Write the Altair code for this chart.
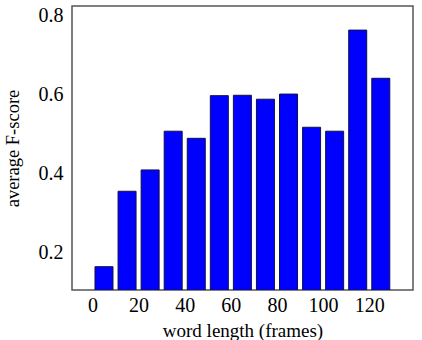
import altair as alt
import pandas as pd

word_length = [5, 15, 25, 35, 45, 55, 65, 75, 85, 95, 105, 115, 125]
f_score = [0.163, 0.354, 0.408, 0.506, 0.488, 0.596, 0.597, 0.587, 0.600, 0.516, 0.506, 0.762, 0.640]
x_ticks = [0, 20, 40, 60, 80, 100, 120]
y_ticks = [0.2, 0.4, 0.6, 0.8]

df = pd.DataFrame({"len": word_length, "f": f_score})

FONT = "Liberation Serif"

chart = alt.Chart(df).mark_bar(
    size=18, color="#0000ff", stroke="#10104a", strokeWidth=1, clip=True
).encode(
    x=alt.X("len:Q", scale=alt.Scale(domain=[-6.7, 136.8], nice=False, zero=False),
            axis=alt.Axis(values=x_ticks, title="word length (frames)", grid=False,
                          domain=False, ticks=False, labelPadding=5, titlePadding=6,
                          labelFontSize=20, titleFontSize=19, labelFont=FONT, titleFont=FONT,
                          labelColor="black", titleColor="black", titleFontWeight="normal")),
    y=alt.Y("f:Q", scale=alt.Scale(domain=[0.104, 0.823], nice=False, zero=False),
            axis=alt.Axis(values=y_ticks, format=".1f", title="average F-score", grid=False,
                          domain=False, ticks=False, labelPadding=9, titlePadding=16,
                          labelFontSize=20, titleFontSize=18.5, labelFont=FONT, titleFont=FONT,
                          labelColor="black", titleColor="black", titleFontWeight="normal")),
    y2=alt.datum(0.104),
).properties(
    width=341, height=284,
    autosize=alt.AutoSizeParams(type="none"),
    padding={"left": 72, "top": 6, "right": 9, "bottom": 50},
).configure_view(stroke="#555555", strokeWidth=1.5)

chart.save("out.html", embed_options={"renderer": "svg", "actions": False})
